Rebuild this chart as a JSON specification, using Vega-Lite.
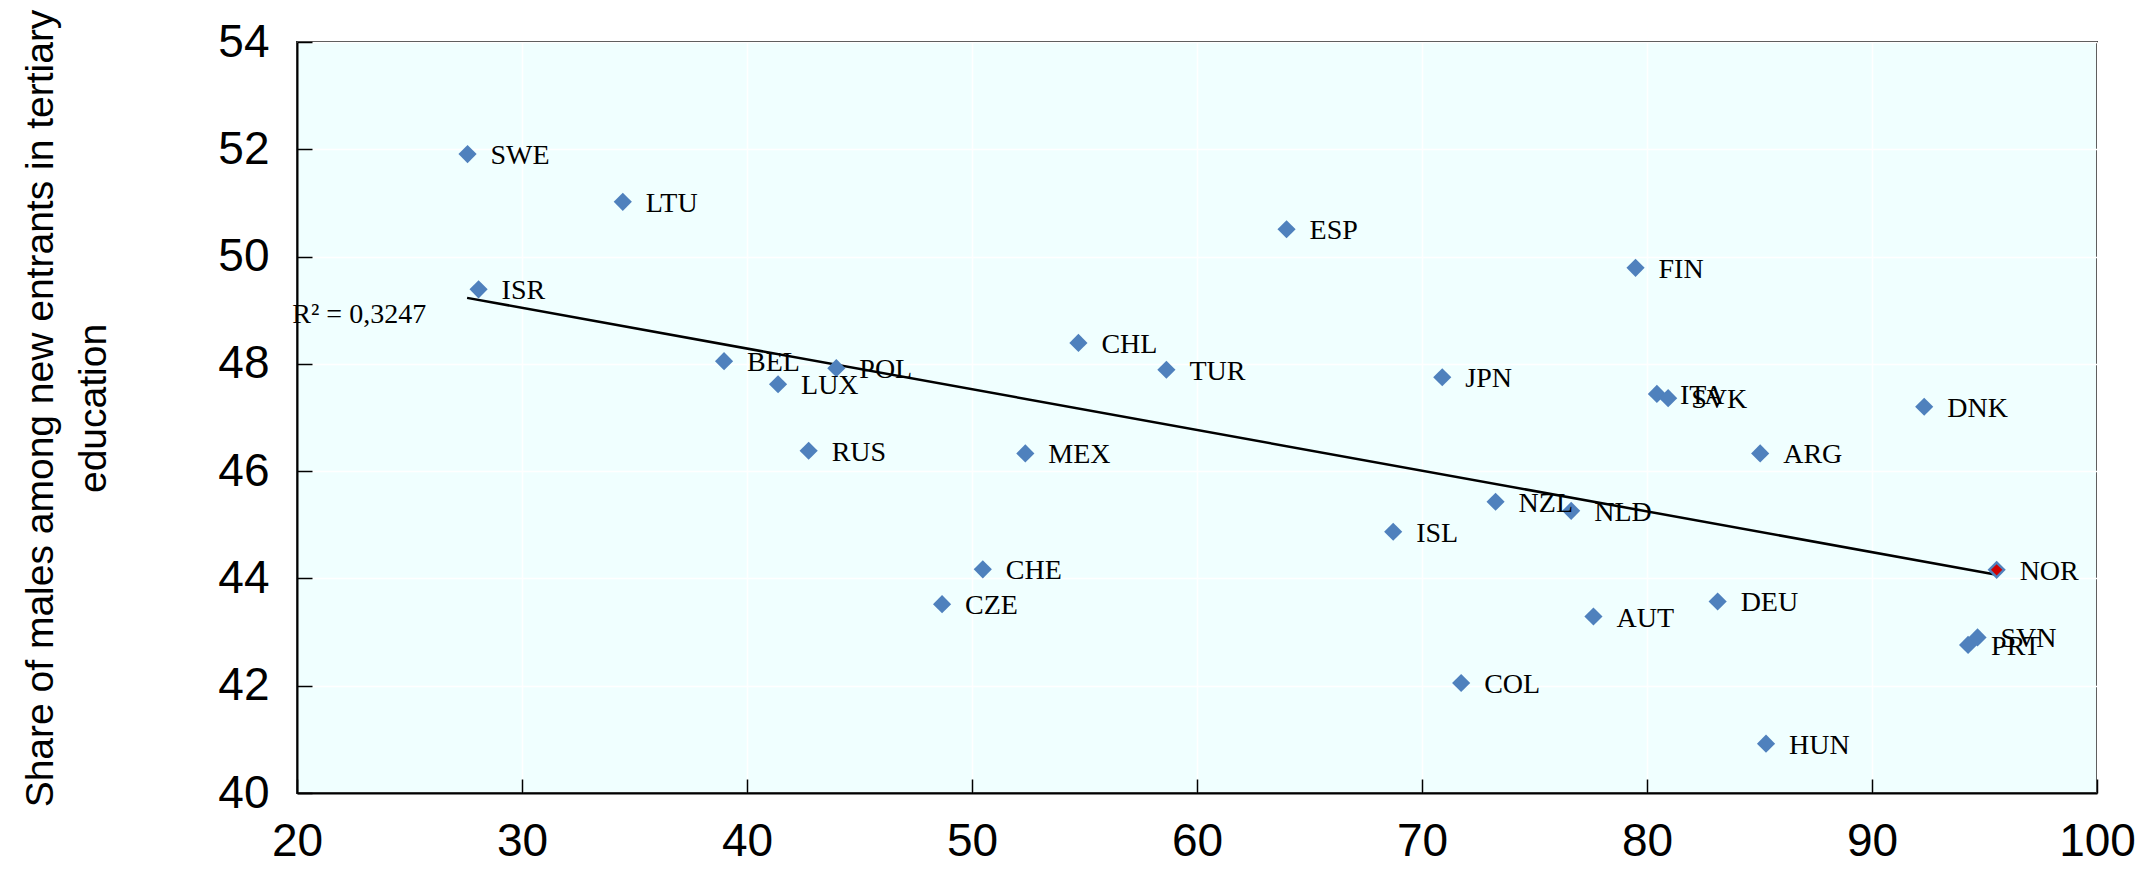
{
  "$schema": "https://vega.github.io/schema/vega-lite/v6.json",
  "width": 1800,
  "height": 751,
  "autosize": {"type": "none"},
  "padding": {"left": 297, "top": 42, "right": 44, "bottom": 81},
  "background": "white",
  "config": {"view": {"fill": "#F0FFFF", "stroke": "#2a2a2a", "strokeWidth": 2}},
  "datasets": {
    "countries": [
      {"country": "SWE", "x": 27.58, "y": 51.91},
      {"country": "LTU", "x": 34.48, "y": 51.02},
      {"country": "ISR", "x": 28.07, "y": 49.39},
      {"country": "BEL", "x": 38.98, "y": 48.05},
      {"country": "POL", "x": 43.97, "y": 47.92},
      {"country": "LUX", "x": 41.38, "y": 47.62},
      {"country": "RUS", "x": 42.74, "y": 46.38},
      {"country": "CHL", "x": 54.73, "y": 48.39},
      {"country": "MEX", "x": 52.37, "y": 46.33},
      {"country": "TUR", "x": 58.64, "y": 47.89},
      {"country": "ESP", "x": 63.98, "y": 50.51},
      {"country": "CHE", "x": 50.48, "y": 44.17},
      {"country": "CZE", "x": 48.67, "y": 43.52},
      {"country": "ISL", "x": 68.72, "y": 44.87},
      {"country": "JPN", "x": 70.9, "y": 47.75},
      {"country": "COL", "x": 71.74, "y": 42.05},
      {"country": "NZL", "x": 73.27, "y": 45.43},
      {"country": "NLD", "x": 76.63, "y": 45.26},
      {"country": "AUT", "x": 77.62, "y": 43.29},
      {"country": "FIN", "x": 79.49, "y": 49.79},
      {"country": "ITA", "x": 80.44, "y": 47.44},
      {"country": "SVK", "x": 80.94, "y": 47.36},
      {"country": "DEU", "x": 83.14, "y": 43.57},
      {"country": "ARG", "x": 85.03, "y": 46.33},
      {"country": "HUN", "x": 85.29, "y": 40.92},
      {"country": "DNK", "x": 92.32, "y": 47.2},
      {"country": "PRT", "x": 94.27, "y": 42.76},
      {"country": "SVN", "x": 94.69, "y": 42.9},
      {"country": "NOR", "x": 95.54, "y": 44.16}
    ],
    "trend": [
      {"x": 27.56, "y": 49.23},
      {"x": 95.54, "y": 44.07}
    ],
    "r2": [
      {"x": 25.74, "y": 48.95, "label": "R² = 0,3247"}
    ]
  },
  "encoding": {
    "x": {
      "field": "x", "type": "quantitative",
      "scale": {"domain": [20, 100], "nice": false, "zero": false},
      "axis": {
        "values": [20, 30, 40, 50, 60, 70, 80, 90, 100],
        "title": null,
        "grid": true, "gridColor": "white", "gridWidth": 1.5,
        "domainColor": "black", "domainWidth": 2,
        "tickColor": "black", "tickWidth": 1.5, "tickSize": -14,
        "labelFont": "Liberation Sans Narrow, Arial Narrow, Liberation Sans, sans-serif",
        "labelFontSize": 46, "labelColor": "black",
        "labelPadding": 40, "labelFlush": false, "labelOverlap": false,
        "labelBaseline": "top"
      }
    },
    "y": {
      "field": "y", "type": "quantitative",
      "scale": {"domain": [40, 54], "nice": false, "zero": false},
      "axis": {
        "values": [40, 42, 44, 46, 48, 50, 52, 54],
        "title": ["Share of males among new entrants in tertiary", "education"],
        "titleFont": "Liberation Sans, Arial, sans-serif",
        "titleFontSize": 39, "titleFontWeight": "normal", "titleColor": "black",
        "titleAngle": 270, "titleBaseline": "alphabetic", "titleAlign": "center",
        "titleX": -245, "titleY": 366, "titleLineHeight": 53,
        "grid": true, "gridColor": "white", "gridWidth": 1.5,
        "domainColor": "black", "domainWidth": 2,
        "tickColor": "black", "tickWidth": 1.5, "tickSize": -15,
        "labelFont": "Liberation Sans Narrow, Arial Narrow, Liberation Sans, sans-serif",
        "labelFontSize": 46, "labelColor": "black",
        "labelPadding": 43, "labelFlush": false, "labelOverlap": false
      }
    }
  },
  "layer": [
    {
      "data": {"name": "trend"},
      "mark": {"type": "line", "color": "black", "strokeWidth": 2.5}
    },
    {
      "data": {"name": "countries"},
      "mark": {"type": "point", "shape": "diamond", "filled": true, "size": 330, "color": "#4F81BD", "opacity": 1}
    },
    {
      "data": {"name": "countries"},
      "transform": [{"filter": "datum.country === 'NOR'"}],
      "mark": {"type": "point", "shape": "diamond", "filled": true, "size": 130, "color": "#D00000", "opacity": 1}
    },
    {
      "data": {"name": "countries"},
      "mark": {"type": "text", "font": "Liberation Serif, Times New Roman, serif", "fontSize": 28, "align": "left", "baseline": "middle", "dx": 23, "dy": 2, "color": "black"},
      "encoding": {"text": {"field": "country", "type": "nominal"}}
    },
    {
      "data": {"name": "r2"},
      "mark": {"type": "text", "font": "Liberation Serif, Times New Roman, serif", "fontSize": 28, "align": "right", "baseline": "middle", "dy": 2, "color": "black"},
      "encoding": {"text": {"field": "label", "type": "nominal"}}
    }
  ]
}
